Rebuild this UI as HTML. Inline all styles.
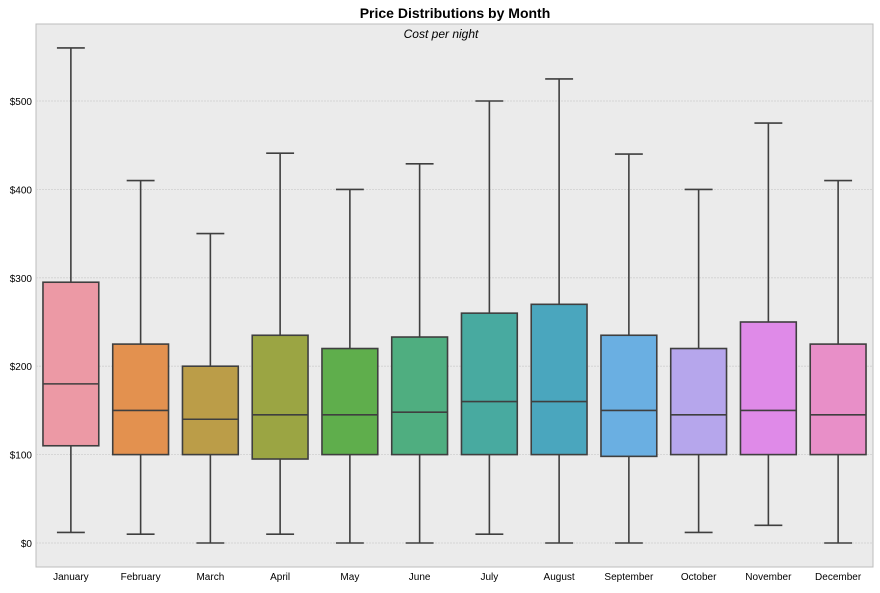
<!DOCTYPE html>
<html><head><meta charset="utf-8"><style>
body{margin:0;background:#fff;font-family:"Liberation Sans",sans-serif}
</style></head><body>
<svg id="c" width="880" height="588" xmlns="http://www.w3.org/2000/svg">
<rect x="36" y="24" width="837" height="543" fill="#ebebeb" stroke="#bcbcbc"/>
<text x="455" y="18" text-anchor="middle" font-size="14" font-weight="bold">Price Distributions by Month</text>
<text x="441" y="38" text-anchor="middle" font-size="12" font-style="italic">Cost per night</text>
<g id="grid"></g><g id="boxes"></g><g id="axes"></g>
</svg>
<script>
const months=["January","February","March","April","May","June","July","August","September","October","November","December"];
const lows=[12,10,0,10,0,0,10,0,0,12,20,0];
const q1s=[110,100,100,95,100,100,100,100,98,100,100,100];
const medians=[180,150,140,145,145,148,160,160,150,145,150,145];
const q3s=[295,225,200,235,220,233,260,270,235,220,250,225];
const highs=[560,410,350,441,400,429,500,525,440,400,475,410];
const colors=["#ec99a5","#e3914f","#bb9d48","#9ba543","#5fae4c","#4fae80","#48aaa0","#4aa6be","#6aafe2","#b6a6ec","#df8ae8","#e88fc8"];
const ticks=[0,100,200,300,400,500];
const NS="http://www.w3.org/2000/svg";
const x0=36,pw=837,band=pw/months.length;
const y=v=>543-v*0.884;
const xc=i=>x0+band*(i+0.5);
function mk(t,a,p){const e=document.createElementNS(NS,t);for(const k in a)e.setAttribute(k,a[k]);p.appendChild(e);return e;}
const grid=document.getElementById('grid'),boxes=document.getElementById('boxes'),axes=document.getElementById('axes');
ticks.forEach(t=>{
 const l=mk('line',{x1:36,x2:873,y1:y(t),y2:y(t),stroke:"#d0d0d0","stroke-width":0.8,"stroke-dasharray":"2,1"},grid);
 
 
 const tx=mk('text',{x:32,y:y(t)+4,"text-anchor":"end","font-size":10},axes);
 tx.textContent='$'+t;
 
 
});
const bw=band*0.8,cw=bw/2;
months.forEach((m,i)=>{
 const c=xc(i);
 const g=mk('g',{stroke:"#3f3f3f","stroke-width":1.6,fill:"none"},boxes);
 
 
 mk('line',{x1:c,x2:c,y1:y(lows[i]),y2:y(q1s[i])},g);
 mk('line',{x1:c,x2:c,y1:y(q3s[i]),y2:y(highs[i])},g);
 mk('line',{x1:c-cw/2,x2:c+cw/2,y1:y(lows[i]),y2:y(lows[i])},g);
 mk('line',{x1:c-cw/2,x2:c+cw/2,y1:y(highs[i]),y2:y(highs[i])},g);
 mk('rect',{x:c-bw/2,y:y(q3s[i]),width:bw,height:y(q1s[i])-y(q3s[i]),fill:colors[i]},g);
 mk('line',{x1:c-bw/2,x2:c+bw/2,y1:y(medians[i]),y2:y(medians[i])},g);
 const tx=mk('text',{x:c,y:580,"text-anchor":"middle","font-size":10},axes);
 tx.textContent=m;
 
 
});
</script>
</body></html>
